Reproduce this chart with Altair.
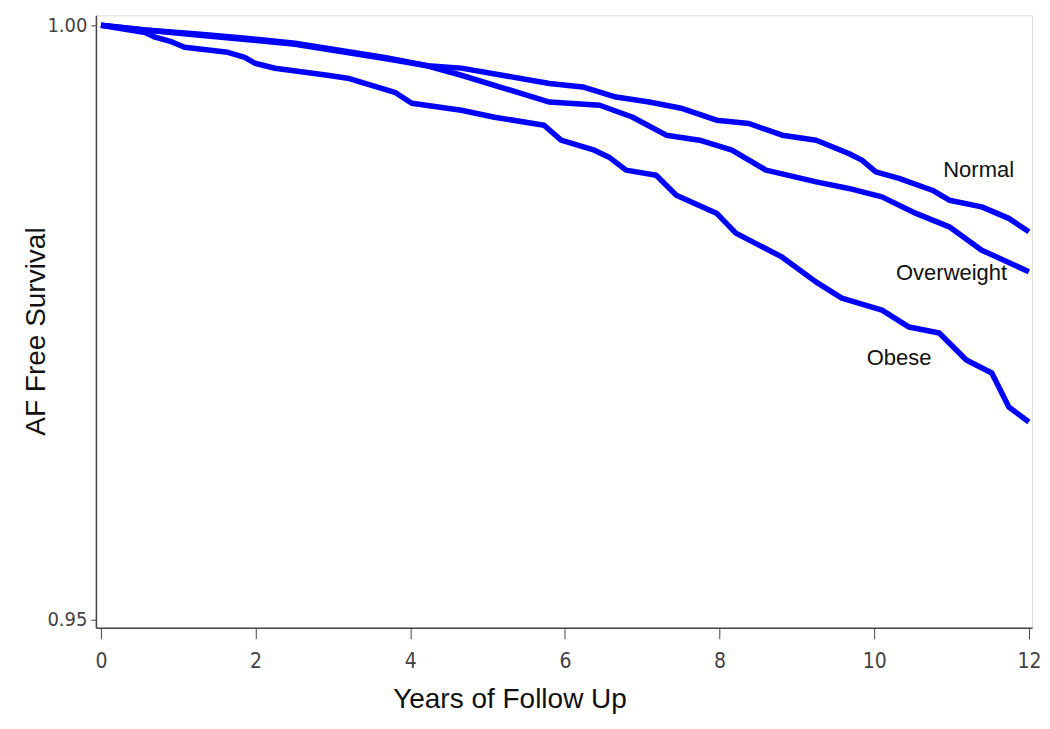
import altair as alt
import pandas as pd

# ---- data ----
normal_years = [0, 0.57, 1.21, 1.73, 2.51, 3.67, 4.22, 4.66, 5.80, 6.23, 6.66, 7.09, 7.52,
                7.96, 8.38, 8.81, 9.25, 9.67, 9.84, 10.02, 10.32, 10.75, 10.97, 11.39, 11.74, 12.0]
normal_surv = [1.0, 0.9996, 0.9993, 0.9990, 0.9985, 0.9973, 0.9966, 0.9964, 0.9951, 0.99482,
               0.99397, 0.99355, 0.99300, 0.99202, 0.99174, 0.99076, 0.99034, 0.98922, 0.98866,
               0.98767, 0.98712, 0.98613, 0.98529, 0.98473, 0.98376, 0.98263]

over_years = [0, 0.57, 1.21, 1.73, 2.51, 3.67, 4.22, 4.66, 5.80, 6.45, 6.87, 7.31, 7.74, 8.16,
              8.60, 9.25, 9.67, 10.10, 10.54, 10.97, 11.39, 12.0]
over_surv = [1.0, 0.9996, 0.9992, 0.9989, 0.9984, 0.9972, 0.9966, 0.9958, 0.99355, 0.99328,
             0.99229, 0.99076, 0.99034, 0.98950, 0.98782, 0.98683, 0.98628, 0.98557, 0.98418,
             0.98305, 0.98109, 0.97927]

obese_years = [0, 0.57, 0.70, 0.92, 1.08, 1.64, 1.86, 1.99, 2.25, 2.93, 3.19, 3.80, 4.02, 4.66,
               5.09, 5.73, 5.95, 6.38, 6.57, 6.79, 7.18, 7.44, 7.96, 8.21, 8.81, 9.25, 9.58,
               10.10, 10.45, 10.84, 11.19, 11.52, 11.74, 12.0]
obese_surv = [1.0, 0.9994, 0.9990, 0.9986, 0.99815, 0.99773, 0.99731, 0.99681, 0.99639, 0.9958,
              0.99555, 0.99437, 0.99345, 0.99286, 0.99227, 0.9916, 0.99034, 0.9895, 0.98891,
              0.98782, 0.98739, 0.98571, 0.9842, 0.98252, 0.9805, 0.9784, 0.97706, 0.97605,
              0.97462, 0.97412, 0.97185, 0.97076, 0.9679, 0.96664]

label_text = ["Normal", "Overweight", "Obese"]
label_years = [11.35, 11.0, 10.32]
label_surv = [0.98782, 0.97916, 0.97202]

x_ticks = [0, 2, 4, 6, 8, 10, 12]
y_ticks = [0.95, 1.00]

rows = []
for g, xs, ys in [("Normal", normal_years, normal_surv),
                  ("Overweight", over_years, over_surv),
                  ("Obese", obese_years, obese_surv)]:
    for i, (a, b) in enumerate(zip(xs, ys)):
        rows.append({"group": g, "year": a, "surv": b, "order": i})
df = pd.DataFrame(rows)
labels = pd.DataFrame({"text": label_text, "year": label_years, "surv": label_surv})

xscale = alt.Scale(domain=[-0.065, 12.04], nice=False, zero=False)
yscale = alt.Scale(domain=[0.94933, 1.00084], nice=False, zero=False)

tick_font = "DejaVu Sans Condensed, DejaVu Sans, sans-serif"

xaxis = alt.Axis(values=x_ticks, title="Years of Follow Up", grid=False, format="d",
                 labelFont=tick_font, labelFontSize=21, labelColor="#444",
                 tickSize=11, tickColor="#444", domainColor="#444", domainWidth=1.5,
                 labelPadding=12, titleFont="Liberation Sans", titleFontSize=28,
                 titleFontWeight="normal", titleColor="#111",
                 titleX=414, titleY=80, titleBaseline="alphabetic", titleAlign="center")
yaxis = alt.Axis(values=y_ticks, title="AF Free Survival", grid=False, format=".2f",
                 labelFont=tick_font, labelFontSize=20, labelColor="#444",
                 tickSize=5, tickColor="#444", domainColor="#444", domainWidth=1.5,
                 labelPadding=4, titleFont="Liberation Sans", titleFontSize=28,
                 titleFontWeight="normal", titleColor="#111",
                 titleX=-51, titleY=316, titleBaseline="alphabetic", titleAlign="center",
                 titleAngle=270)

lines = alt.Chart(df).mark_line(color="#0000FF", strokeWidth=5.5, strokeJoin="round").encode(
    x=alt.X("year:Q", scale=xscale, axis=xaxis),
    y=alt.Y("surv:Q", scale=yscale, axis=yaxis),
    detail="group:N",
    order="order:Q",
)

texts = alt.Chart(labels).mark_text(font="Liberation Sans", fontSize=22, color="#111",
                                     align="center", baseline="middle").encode(
    x=alt.X("year:Q", scale=xscale),
    y=alt.Y("surv:Q", scale=yscale),
    text="text:N",
)

chart = (lines + texts).properties(
    width=937, height=613,
    autosize=alt.AutoSizeParams(type="none"),
    padding={"left": 88, "top": 7, "right": 10, "bottom": 90},
).configure_view(stroke="#555", strokeWidth=1.5).configure(background="white")

chart.save("out.html", embed_options={"renderer": "svg", "actions": False})
